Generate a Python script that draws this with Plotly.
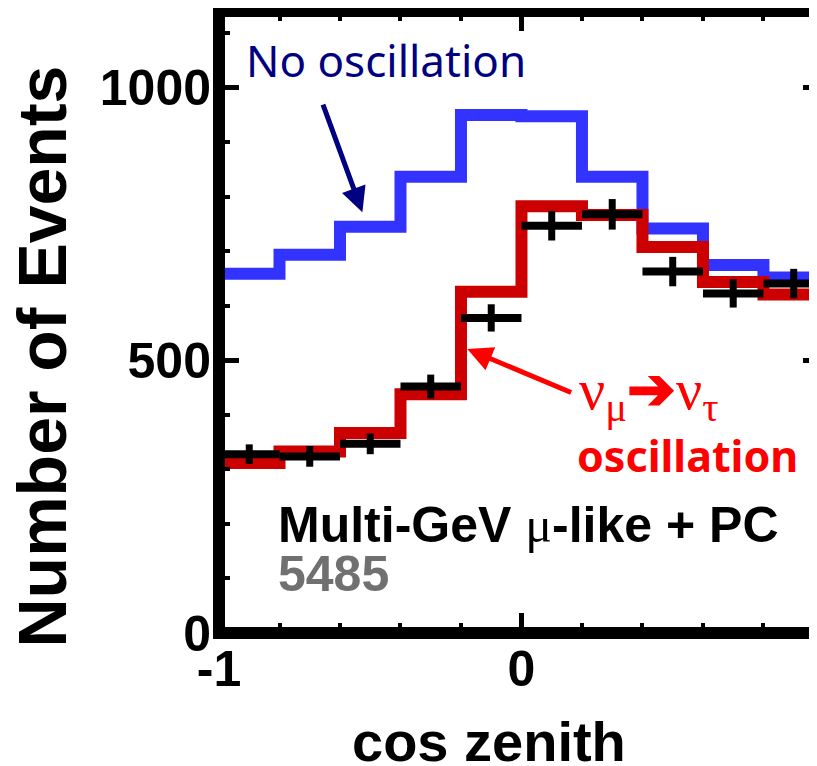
import plotly.graph_objects as go

# cos(zenith) bins, width 0.2
bin_edges = [-1.0, -0.8, -0.6, -0.4, -0.2, 0.0, 0.2, 0.4, 0.6, 0.8, 1.0]
bin_centers = [-0.9, -0.7, -0.5, -0.3, -0.1, 0.1, 0.3, 0.5, 0.7, 0.9]

# MC expectation without oscillation
no_osc = [659, 694, 745, 837, 950, 948, 837, 742, 675, 652]
# MC expectation with numu -> nutau oscillation
osc = [312, 333, 367, 438, 626, 783, 767, 708, 644, 621]
# data with statistical errors
data = [328, 324, 347, 452, 578, 747, 768, 663, 623, 641]
data_err = [18, 19, 19, 22, 25, 27, 28, 27, 26, 27]
half_bin = [0.1] * len(bin_centers)

x_tickvals = [-1, 0, 1]
x_ticktext = ['-1', '0', '1']
y_tickvals = [0, 500, 1000]
y_ticktext = ['0', '500', '1000']

BLUE = '#3333ff'
RED = '#cc0000'
NAVY = '#000080'
BOLD = 'Liberation Sans'


def step(vals):
    # left edges + last right edge so that 'hv' draws full histogram steps
    return bin_edges, vals + [vals[-1]]


fig = go.Figure()

x_b, y_b = step(no_osc)
fig.add_trace(go.Scatter(x=x_b, y=y_b, mode='lines', line=dict(color=BLUE, width=12, shape='hv'),
                         showlegend=False, hoverinfo='skip'))
x_r, y_r = step(osc)
fig.add_trace(go.Scatter(x=x_r, y=y_r, mode='lines', line=dict(color=RED, width=12, shape='hv'),
                         showlegend=False, hoverinfo='skip'))
fig.add_trace(go.Scatter(
    x=bin_centers, y=data, mode='markers',
    marker=dict(size=1, color='black'),
    error_x=dict(type='data', array=half_bin, thickness=8, width=0, color='black'),
    error_y=dict(type='data', array=data_err, thickness=7, width=0, color='black'),
    showlegend=False
))
# dummy trace so the right-hand tick axis is drawn
fig.add_trace(go.Scatter(x=[None], y=[None], yaxis='y2', showlegend=False, hoverinfo='skip'))

# frame (right edge falls outside the picture, as in the cropped original)
fig.add_shape(type='rect', xref='paper', yref='paper', x0=0, x1=1.03, y0=0, y1=1,
              line=dict(color='black', width=12), layer='above')

tick_font = dict(family=BOLD, size=50, color='black', weight='bold')

# page body has an 8px margin, so the figure is 8px smaller than the window
fig.update_layout(
    width=809, height=758,
    margin=dict(l=211, r=0, t=3, b=133, autoexpand=False),
    plot_bgcolor='white', paper_bgcolor='white',
    xaxis=dict(range=[-1, 0.977], tickmode='array', tickvals=x_tickvals, ticktext=x_ticktext,
               ticks='inside', ticklen=20, tickwidth=5, tickcolor='black',
               minor=dict(dtick=0.2, tick0=0, ticks='inside', ticklen=10, tickwidth=4, tickcolor='black'),
               mirror='ticks', showline=False, showgrid=False, zeroline=False,
               automargin=False, tickfont=tick_font, ticklabelstandoff=2),
    yaxis=dict(range=[0, 1141], tickmode='array', tickvals=y_tickvals, ticktext=y_ticktext,
               ticks='inside', ticklen=20, tickwidth=5, tickcolor='black',
               minor=dict(dtick=100, tick0=0, ticks='inside', ticklen=11, tickwidth=4, tickcolor='black'),
               showline=False, showgrid=False, zeroline=False,
               automargin=False, tickfont=tick_font, ticklabelstandoff=7),
    yaxis2=dict(range=[0, 1141], overlaying='y', side='right', tickmode='array', tickvals=y_tickvals,
                ticks='inside', ticklen=14, tickwidth=5, tickcolor='black',
                minor=dict(dtick=100, tick0=0, ticks='inside', ticklen=5, tickwidth=4, tickcolor='black'),
                showticklabels=False, showline=False, showgrid=False, zeroline=False, automargin=False),
)

# axis titles
fig.add_annotation(text='Number of Events', xref='paper', yref='paper', x=-0.296, y=0.4445,
                   textangle=-90, showarrow=False, xanchor='center', yanchor='middle',
                   font=dict(family=BOLD, size=68, color='black', weight='bold'))
fig.add_annotation(text='cos zenith', xref='paper', yref='paper', x=0.452, y=-0.175,
                   showarrow=False, xanchor='center', yanchor='middle',
                   font=dict(family=BOLD, size=56, color='black', weight='bold'))

# labels inside the frame
fig.add_annotation(text='No oscillation', x=-0.918, y=1052, xanchor='left', yanchor='middle',
                   showarrow=False, font=dict(family='Noto Sans', size=44, color=NAVY))
fig.add_annotation(text='', x=-0.526, y=772, ax=-0.658, ay=972, axref='x', ayref='y',
                   showarrow=True, arrowhead=2, arrowsize=1, arrowwidth=5, arrowcolor=NAVY, standoff=0)

fig.add_annotation(text='ν<sub>μ</sub><b>➔</b>ν<sub>τ</sub>', x=0.42, y=440, xanchor='center',
                   yanchor='middle', showarrow=False,
                   font=dict(family='Liberation Serif', size=58, color='#ff0000'))
fig.add_annotation(text='<b>oscillation</b>', x=0.548, y=325, xanchor='center', yanchor='middle',
                   showarrow=False, font=dict(family='Noto Sans', size=43, color='#ff0000'))
fig.add_annotation(text='', x=-0.179, y=521, ax=0.169, ay=440, axref='x', ayref='y',
                   showarrow=True, arrowhead=2, arrowsize=1, arrowwidth=5, arrowcolor='#ff0000', standoff=0)

fig.add_annotation(text="<b>Multi-GeV </b><span style='font-family:Liberation Serif'>μ</span><b>-like + PC</b>",
                   x=-0.81, y=198, xanchor='left', yanchor='middle', showarrow=False,
                   font=dict(family=BOLD, size=50, color='black'))
fig.add_annotation(text='<b>5485</b>', x=-0.81, y=109, xanchor='left', yanchor='middle', showarrow=False,
                   font=dict(family=BOLD, size=50, color='#707070'))

fig.write_html("out.html")
